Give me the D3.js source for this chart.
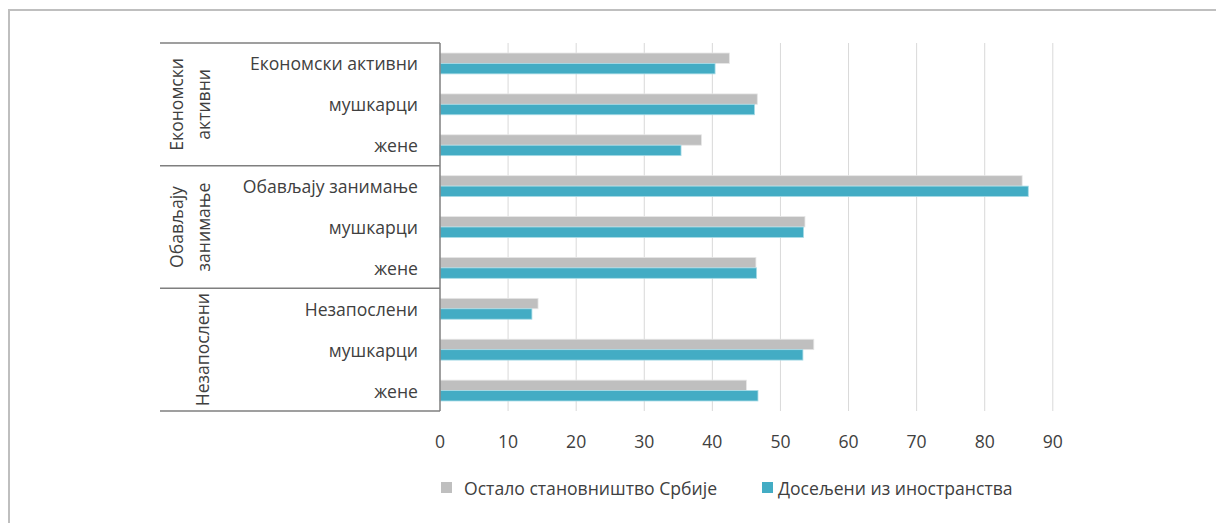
<!DOCTYPE html>
<html>
<head>
<meta charset="utf-8">
<script src="https://cdn.jsdelivr.net/npm/d3@7"></script>
<style>
  body { margin: 0; background: #fff; }
  svg text { font-family: "Open Sans", "Noto Sans", sans-serif; fill: #404040; }
</style>
</head>
<body>
<div id="chart"></div>
<script>
// data
const groups = [
  { name: ["Економски", "активни"], rows: 3 },
  { name: ["Обављају", "занимање"], rows: 3 },
  { name: ["Незапослени"], rows: 3 }
];
const categories = ["Економски активни", "мушкарци", "жене",
  "Обављају занимање ", "мушкарци", "жене",
  "Незапослени", "мушкарци", "жене"];
const seriesNames = ["Остало становништво Србије", "Досељени из иностранства"];
const ostalo = [42.5, 46.6, 38.4, 85.5, 53.6, 46.4, 14.4, 54.9, 45.0];
const doseljeni = [40.4, 46.2, 35.4, 86.4, 53.4, 46.5, 13.5, 53.3, 46.7];
const ticks = [0, 10, 20, 30, 40, 50, 60, 70, 80, 90];
const colors = ["#bfbfbf", "#43acc4"];

const W = 1216, H = 523;
const plotL = 440, plotR = 1052.8, plotT = 43, plotB = 411;
const boxLeft = 160;
const fs = 17.6;

const svg = d3.select("#chart").append("svg")
  .attr("width", W).attr("height", H);

// outer frame (only top and left visible)
svg.append("path")
  .attr("d", `M9,${H} L9,10 L${W},10`)
  .attr("fill", "none").attr("stroke", "#bfbfbf").attr("stroke-width", 2);

const x = d3.scaleLinear().domain([0, 90]).range([plotL, plotR]);
const idx = d3.range(categories.length);
const y = d3.scaleBand().domain(idx).range([plotT, plotB]).paddingInner(0.49).paddingOuter(0.245);
const ySub = d3.scaleBand().domain([0, 1]).range([0, y.bandwidth()]);

// grid
svg.append("g").selectAll("line").data(ticks.slice(1)).join("line")
  .attr("x1", d => x(d)).attr("x2", d => x(d))
  .attr("y1", plotT).attr("y2", plotB)
  .attr("stroke", "#d9d9d9").attr("stroke-width", 1);

// bars
const series = [ostalo, doseljeni];
series.forEach((vals, s) => {
  svg.append("g").selectAll("rect").data(vals).join("rect")
    .attr("x", x(0))
    .attr("y", (d, i) => y(i) + ySub(s))
    .attr("width", d => x(d) - x(0))
    .attr("height", ySub.bandwidth())
    .attr("fill", colors[s])
    .attr("stroke", s === 0 ? "#e6e6e6" : "#a8dbe6")
    .attr("stroke-width", 0.8);
});

// x axis labels
svg.append("g").selectAll("text").data(ticks).join("text")
  .attr("x", d => x(d)).attr("y", 441)
  .attr("text-anchor", "middle").attr("dominant-baseline", "central")
  .attr("font-size", fs).text(d => d);

// category labels
const step = y.step();
svg.append("g").selectAll("text").data(categories).join("text")
  .attr("x", 418)
  .attr("y", (d, i) => plotT + step * (i + 0.5))
  .attr("text-anchor", "end").attr("dominant-baseline", "central")
  .attr("font-size", fs).text(d => d);

// group box lines
const lineColor = "#7f7f7f";
let r0 = 0;
const seps = [plotT];
groups.forEach(g => { r0 += g.rows; seps.push(plotT + step * r0); });
svg.append("g").selectAll("line").data(seps).join("line")
  .attr("x1", boxLeft).attr("x2", plotL)
  .attr("y1", d => d).attr("y2", d => d)
  .attr("stroke", lineColor).attr("stroke-width", 1.5);
svg.append("line")
  .attr("x1", plotL).attr("x2", plotL).attr("y1", plotT).attr("y2", plotB)
  .attr("stroke", lineColor).attr("stroke-width", 1.5);

// rotated group labels
const lineX = [[176, 203], [176, 203], [202]];
r0 = 0;
groups.forEach((g, gi) => {
  const cy = plotT + step * (r0 + g.rows / 2);
  r0 += g.rows;
  g.name.forEach((t, li) => {
    svg.append("text")
      .attr("transform", `translate(${lineX[gi][li]},${cy}) rotate(-90)`)
      .attr("text-anchor", "middle").attr("dominant-baseline", "central")
      .attr("font-size", fs).text(t);
  });
});

// legend
const legX = [441, 762];
seriesNames.forEach((n, i) => {
  svg.append("rect")
    .attr("x", legX[i]).attr("y", 482).attr("width", 11).attr("height", 11)
    .attr("fill", colors[i]);
  svg.append("text")
    .attr("x", legX[i] + (i === 0 ? 23 : 16)).attr("y", 487.5)
    .attr("dominant-baseline", "central")
    .attr("font-size", fs).text(n);
});
</script>
</body>
</html>
